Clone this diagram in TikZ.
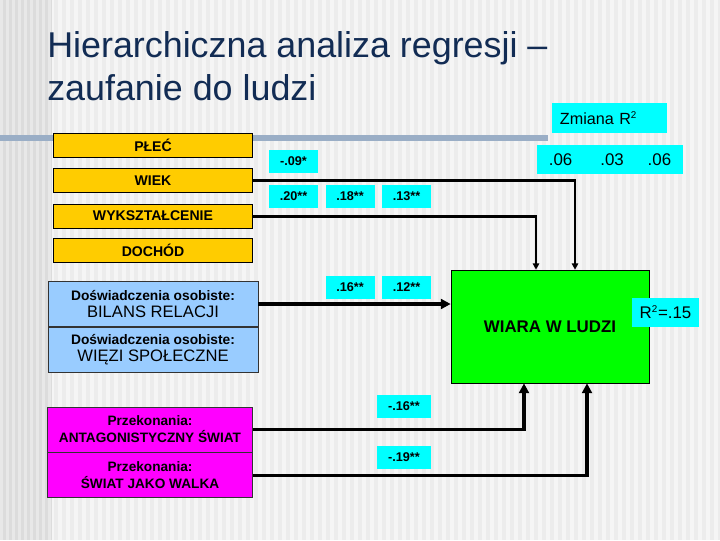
\documentclass[tikz,border=0pt]{standalone}
\usepackage{fontspec}
\setmainfont{Liberation Sans}
\usetikzlibrary{arrows.meta, positioning}
\definecolor{slidebg}{RGB}{236,236,236}
\definecolor{stripecol}{RGB}{245,245,245}
\definecolor{leftbg}{RGB}{220,220,220}
\definecolor{leftstripe}{RGB}{232,232,232}
\definecolor{barcol}{RGB}{154,174,198}
\definecolor{titlecol}{RGB}{18,44,84}
\definecolor{orangebox}{RGB}{255,204,0}
\definecolor{bluebox}{RGB}{153,204,255}
\definecolor{magentabox}{RGB}{255,0,255}
\definecolor{greenbox}{RGB}{0,255,0}
\definecolor{cyanbox}{RGB}{0,255,255}

\begin{document}
\begin{tikzpicture}[x=0.025cm, y=-0.025cm,
            factor/.style={rectangle, draw, fill=orangebox, inner sep=0pt,
              minimum width=4.975cm, minimum height=0.6cm,
              font=\fontsize{10}{12}\selectfont\bfseries},
            experience/.style={rectangle, draw=black!80, fill=bluebox, inner sep=0pt,
              minimum width=5.25cm, minimum height=1.125cm, align=center},
            belief/.style={rectangle, draw=black!80, fill=magentabox, inner sep=0pt,
              minimum width=5.125cm, minimum height=1.125cm, align=center,
              font=\fontsize{9.7}{12}\selectfont\bfseries},
            coef/.style={rectangle, fill=cyanbox, inner sep=0pt,
              minimum width=1.225cm, minimum height=0.575cm,
              font=\fontsize{9}{10}\selectfont\bfseries},
            stat/.style={rectangle, fill=cyanbox, inner sep=0pt,
              font=\fontsize{12}{14}\selectfont},
            conn/.style={line width=2.2pt, -{Triangle[length=7pt,width=7pt]}},
            connsmall/.style={line width=2pt, -{Triangle[length=4.5pt,width=4.5pt]}}]

        \useasboundingbox (0,0) rectangle (720,540);
        % slide background
        \fill[slidebg] (0,0) rectangle (720,540);
        \foreach \x in {2,10,...,714}
            \fill[stripecol] (\x,0) rectangle ++(4,540);
        \fill[leftbg] (0,0) rectangle (52,540);
        \foreach \x in {0,6,...,48}
            \fill[leftstripe] (\x,0) rectangle ++(3,540);
        \fill[barcol] (0,135) rectangle (548,141);

        \node[anchor=north west, inner sep=0pt, align=left, text=titlecol,
              font=\fontsize{25.5}{30.5}\selectfont] (title) at (47,31)
            {Hierarchiczna analiza regresji --\\zaufanie do ludzi};

        % predictors
        \node[factor] (plec) at (153,145) {PŁEĆ};
        \node[factor, below=0.275cm of plec] (wiek) {WIEK};
        \node[factor, below=0.275cm of wiek] (wyksz) {WYKSZTAŁCENIE};
        \node[factor, below=0.25cm of wyksz] (dochod) {DOCHÓD};

        \node[experience] (bilans) at (153,304)
            {{\fontsize{9.8}{11}\selectfont\bfseries Doświadczenia osobiste:}\\
             {\fontsize{11.8}{13}\selectfont BILANS RELACJI}};
        \node[experience, below=0pt of bilans] (wiezi)
            {{\fontsize{9.8}{11}\selectfont\bfseries Doświadczenia osobiste:}\\
             {\fontsize{11.8}{13}\selectfont WIĘZI SPOŁECZNE}};

        \node[belief] (antag) at (150,429.5) {Przekonania:\\ANTAGONISTYCZNY ŚWIAT};
        \node[belief, below=0pt of antag] (walka) {Przekonania:\\ŚWIAT JAKO WALKA};

        % outcome
        \node[rectangle, draw, fill=greenbox, minimum width=4.95cm, minimum height=2.825cm,
              font=\fontsize{12}{14}\selectfont\bfseries] (wiara) at (550,326.5) {WIARA W LUDZI};

        \draw[connsmall] (wiek.east) -| ([xshift=0.625cm]wiara.north);
        \draw[connsmall] (wyksz.east) -| ([xshift=-0.35cm]wiara.north);
        \draw[conn] (bilans.east) -- (bilans.east -| wiara.west);
        \draw[conn] (antag.east) -| ([xshift=-0.65cm]wiara.south);
        \draw[conn] (walka.east) -| ([xshift=0.925cm]wiara.south);

        % coefficients
        \node[coef] (b1) at (293.5,161.5) {-.09*};
        \node[coef] (b2) at (293.5,196.5) {.20**};
        \node[coef] (b3) at (350,196.5) {.18**};
        \node[coef] (b4) at (406.5,196.5) {.13**};
        \node[coef] (b5) at (350,287) {.16**};
        \node[coef] (b6) at (406.5,287) {.12**};
        \node[coef, minimum width=1.35cm] (b7) at (404,406) {-.16**};
        \node[coef, minimum width=1.35cm] (b8) at (404,457) {-.19**};

        % R2
        \node[stat, minimum width=2.875cm, minimum height=0.75cm, text width=2.475cm,
              align=left, font=\fontsize{11.5}{13}\selectfont] (zmiana) at (609.5,118)
            {Zmiana R\textsuperscript{\scriptsize 2}};
        \node[stat, minimum width=3.65cm, minimum height=0.725cm] (deltas) at (610,159.5)
            {.06\hspace{20pt}.03\hspace{17pt}.06};
        \node[stat, minimum width=1.675cm, minimum height=0.725cm] (r2) at (665.5,312.5)
            {R\textsuperscript{\scriptsize 2}=.15};

    \end{tikzpicture}
\end{document}
